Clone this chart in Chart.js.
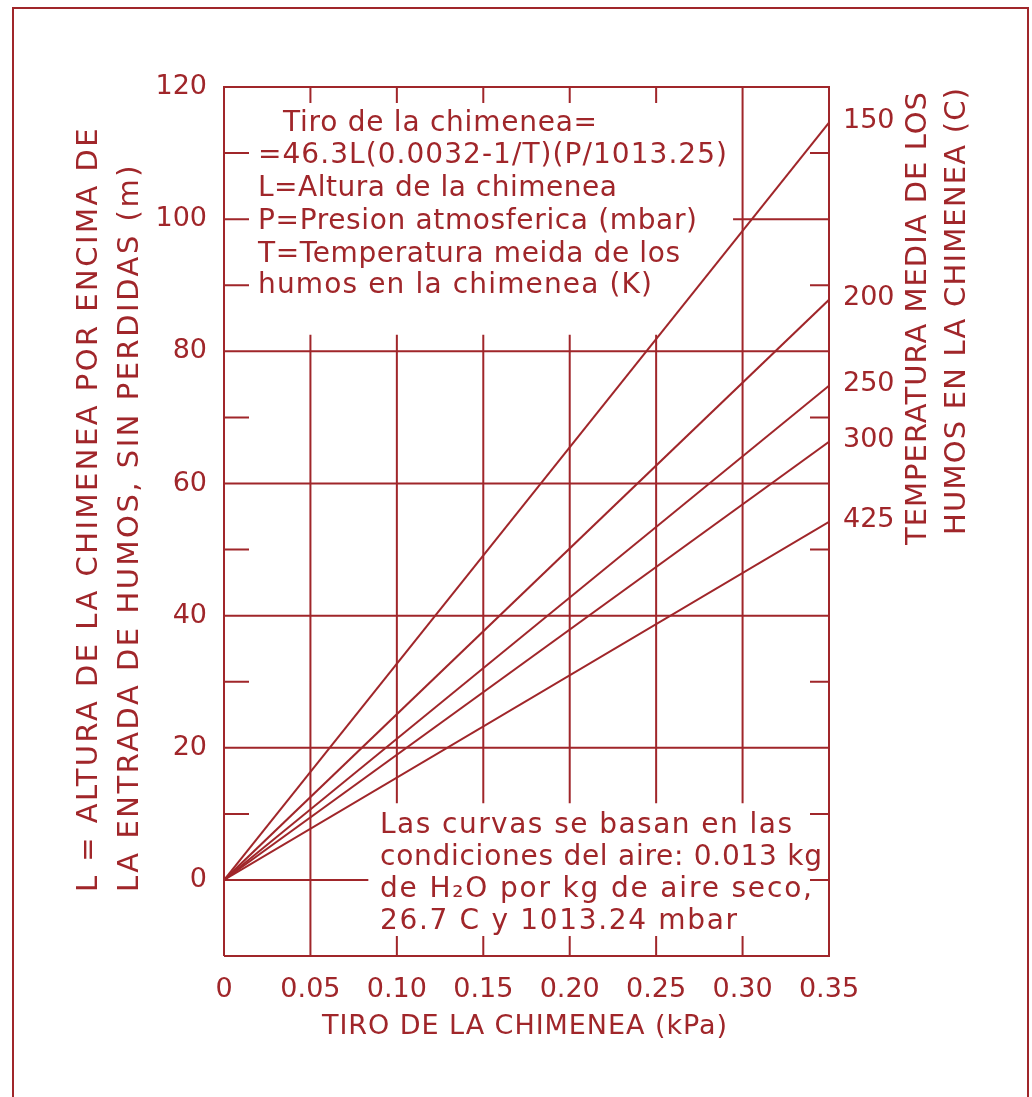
<!DOCTYPE html>
<html>
<head>
<meta charset="utf-8">
<script src="https://cdn.jsdelivr.net/npm/chart.js@4.4.1/dist/chart.umd.min.js"></script>
<style>
  html, body { margin: 0; background: #fff; }
  canvas { display: block; }
</style>
</head>
<body>
<canvas id="chart" width="1032" height="1097"></canvas>
<script>
// values
const temperatures = ['150', '200', '250', '300', '425'];   // C
const draftValues = [0, 0.35];                              // kPa
const heightAtZero = [0, 0, 0, 0, 0];                       // m
const heightAtEnd = [114.6, 87.8, 74.8, 66.3, 54.2];        // m at 0.35 kPa
const xTicks = [0, 0.05, 0.10, 0.15, 0.20, 0.25, 0.30, 0.35];
const yTicks = [0, 20, 40, 60, 80, 100, 120];
const yMin = -11.5;
const yMax = 120;

const xTitle = 'TIRO DE LA CHIMENEA (kPa)';
const yTitle = ['L = ALTURA DE LA CHIMENEA POR ENCIMA DE', 'LA ENTRADA DE HUMOS, SIN PERDIDAS (m)'];
const rightTitle = ['TEMPERATURA MEDIA DE LOS', 'HUMOS EN LA CHIMENEA (C)'];
const formulaNote = [
  'Tiro de la chimenea=',
  '=46.3L(0.0032-1/T)(P/1013.25)',
  'L=Altura de la chimenea',
  'P=Presion atmosferica (mbar)',
  'T=Temperatura meida de los',
  'humos en la chimenea (K)'
];
const conditionsNote = [
  'Las curvas se basan en las',
  'condiciones del aire: 0.013 kg',
  'de H₂O por kg de aire seco,',
  '26.7 C y 1013.24 mbar'
];

const RED = '#a0262a';
const FONT = '"DejaVu Sans", sans-serif';

// text placement on the page: [left, baseline, right]
const formulaPos = [[283, 131, 597], [258, 163, 727], [258, 196, 617], [258, 229, 697], [258, 262, 680], [258, 293, 652]];
const conditionsPos = [[380, 833, 792], [380, 865, 822], [380, 897, 812], [380, 929, 737]];
// rotated titles: [centre x, bottom y, top y]
const yTitlePos = [[89, 892, 128], [130, 892, 165]];
const rightTitlePos = [[918, 545, 92], [957, 535, 88]];

// chart frame pieces (value coordinates)
const fullRows = [20, 40, 60, 80];
const partRows = [[0, 0, 0.0835], [100, 0.2945, 0.35]];
const innerCols = [0.10, 0.15, 0.20, 0.25];
const leftTicks = [10, 30, 50, 70, 90, 100, 110];
const rightTicks = [0, 10, 30, 50, 70, 90, 110];
const topTicks = [0.05, 0.10, 0.15, 0.20, 0.25];
const bottomTicks = [0.10, 0.15, 0.20, 0.25, 0.30];

function fitText(ctx, text, x, y, width) {
  ctx.letterSpacing = '0px';
  const w = ctx.measureText(text).width;
  const n = [...text].length;
  ctx.letterSpacing = Math.max(0, (width - w) / (n - 1)) + 'px';
  ctx.fillText(text, x, y, width + 2);
  ctx.letterSpacing = '0px';
}

const framePlugin = {
  id: 'frame',
  beforeDatasetsDraw(chart) {
    const { ctx } = chart;
    const xs = chart.scales.x, ys = chart.scales.y;
    const X = v => xs.getPixelForValue(v);
    const Y = v => ys.getPixelForValue(v);
    ctx.save();
    ctx.strokeStyle = RED;
    ctx.lineWidth = 2;
    ctx.beginPath();
    // outer page border
    ctx.moveTo(13, 1100); ctx.lineTo(13, 8); ctx.lineTo(1028, 8); ctx.lineTo(1028, 1100);
    // plot border
    ctx.moveTo(X(0), Y(yMin)); ctx.lineTo(X(0), Y(yMax)); ctx.lineTo(X(0.35), Y(yMax));
    ctx.lineTo(X(0.35), Y(yMin)); ctx.lineTo(X(0), Y(yMin));
    fullRows.forEach(v => { ctx.moveTo(X(0), Y(v)); ctx.lineTo(X(0.35), Y(v)); });
    partRows.forEach(([v, a, b]) => { ctx.moveTo(X(a), Y(v)); ctx.lineTo(X(b), Y(v)); });
    ctx.moveTo(X(0.05), Y(yMin)); ctx.lineTo(X(0.05), Y(82.5));
    innerCols.forEach(v => { ctx.moveTo(X(v), Y(11.6)); ctx.lineTo(X(v), Y(82.5)); });
    ctx.moveTo(X(0.30), Y(11.6)); ctx.lineTo(X(0.30), Y(yMax));
    leftTicks.forEach(v => { ctx.moveTo(X(0), Y(v)); ctx.lineTo(X(0) + 25, Y(v)); });
    rightTicks.forEach(v => { ctx.moveTo(X(0.35), Y(v)); ctx.lineTo(X(0.35) - 19, Y(v)); });
    topTicks.forEach(v => { ctx.moveTo(X(v), Y(yMax)); ctx.lineTo(X(v), Y(yMax) + 16); });
    bottomTicks.forEach(v => { ctx.moveTo(X(v), Y(yMin)); ctx.lineTo(X(v), Y(yMin) - 20); });
    ctx.stroke();
    ctx.restore();
  },
  afterDatasetsDraw(chart) {
    const { ctx } = chart;
    const xs = chart.scales.x, ys = chart.scales.y;
    ctx.save();
    ctx.fillStyle = RED;
    ctx.font = '28px ' + FONT;
    ctx.textAlign = 'left';
    ctx.textBaseline = 'alphabetic';
    formulaNote.forEach((t, i) => fitText(ctx, t, formulaPos[i][0], formulaPos[i][1], formulaPos[i][2] - formulaPos[i][0]));
    conditionsNote.forEach((t, i) => fitText(ctx, t, conditionsPos[i][0], conditionsPos[i][1], conditionsPos[i][2] - conditionsPos[i][0]));

    // temperature labels at the line ends
    ctx.font = '27px ' + FONT;
    ctx.textBaseline = 'middle';
    temperatures.forEach((t, i) => {
      ctx.fillText(t, xs.getPixelForValue(0.35) + 14, ys.getPixelForValue(heightAtEnd[i]) - 2);
    });

    // x title
    fitText(ctx, xTitle, 322, 1027, 405);

    // rotated titles
    ctx.font = '29px ' + FONT;
    const rotated = (lines, pos) => lines.forEach((t, i) => {
      const [cx, yb, yt] = pos[i];
      ctx.save();
      ctx.translate(cx, yb);
      ctx.rotate(-Math.PI / 2);
      fitText(ctx, t, 0, 0, yb - yt);
      ctx.restore();
    });
    rotated(yTitle, yTitlePos);
    rotated(rightTitle, rightTitlePos);
    ctx.restore();
  }
};

Chart.defaults.font.family = FONT;
Chart.defaults.color = RED;

new Chart(document.getElementById('chart').getContext('2d'), {
  type: 'line',
  data: {
    datasets: temperatures.map((t, i) => ({
      label: t + ' C',
      data: [
        { x: draftValues[0], y: heightAtZero[i] },
        { x: draftValues[1], y: heightAtEnd[i] }
      ],
      borderColor: RED,
      borderWidth: 2,
      pointRadius: 0,
      fill: false,
      tension: 0
    }))
  },
  options: {
    responsive: false,
    animation: false,
    layout: { padding: { top: 87, left: 0, right: 0, bottom: 0 } },
    plugins: {
      legend: { display: false },
      tooltip: { enabled: false }
    },
    scales: {
      x: {
        type: 'linear',
        min: 0,
        max: 0.35,
        grid: { display: false, drawTicks: false },
        border: { display: false },
        afterBuildTicks: s => { s.ticks = xTicks.map(v => ({ value: v })); },
        afterFit: s => { s.height = 141; s.paddingLeft = 0; s.paddingRight = 0; },
        ticks: {
          padding: 18,
          maxRotation: 0,
          autoSkip: false,
          font: { size: 27 },
          color: RED,
          callback: v => (v === 0 ? '0' : v.toFixed(2))
        }
      },
      y: {
        min: yMin,
        max: yMax,
        grid: { display: false, drawTicks: false },
        border: { display: false },
        afterBuildTicks: s => { s.ticks = yTicks.map(v => ({ value: v })); },
        afterFit: s => { s.width = 224; s.paddingTop = 0; s.paddingBottom = 0; },
        ticks: {
          padding: 17,
          font: { size: 27 },
          color: RED
        }
      },
      yRight: {
        position: 'right',
        min: yMin,
        max: yMax,
        grid: { display: false, drawTicks: false },
        border: { display: false },
        ticks: { display: false },
        afterFit: s => { s.width = 203; s.paddingTop = 0; s.paddingBottom = 0; }
      }
    }
  },
  plugins: [framePlugin]
});
</script>
</body>
</html>
